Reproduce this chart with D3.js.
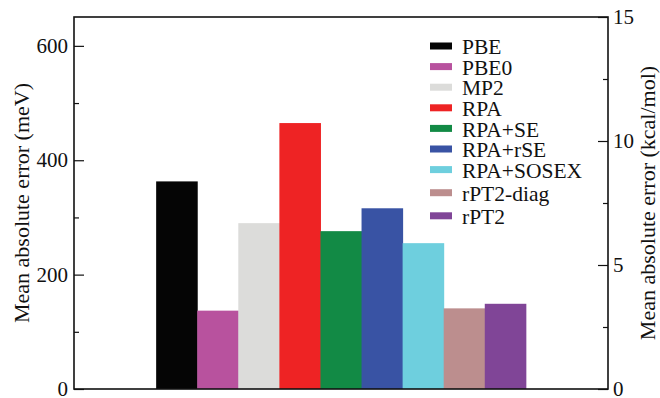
<!DOCTYPE html>
<html>
<head>
<meta charset="utf-8">
<script src="https://cdn.jsdelivr.net/npm/d3@7"></script>
<style>
  html, body { margin: 0; padding: 0; background: #fff; }
  svg { display: block; }
  text { font-family: "Liberation Serif", "Times New Roman", serif; fill: #111; }
</style>
</head>
<body>
<svg id="chart" width="660" height="398"></svg>
<script>
// Methods and their mean absolute errors (meV)
const methods = ["PBE", "PBE0", "MP2", "RPA", "RPA+SE", "RPA+rSE", "RPA+SOSEX", "rPT2-diag", "rPT2"];
const maeMeV = [363, 137, 290, 465, 276, 316, 255, 141, 149];
const colors = ["#050505", "#b8529e", "#dcdcda", "#ee2324", "#128a45", "#3953a4", "#6ecfde", "#bc8e8e", "#804597"];
const leftTicks = [0, 200, 400, 600];
const leftMinor = [100, 300, 500];
const rightTicks = [0, 5, 10, 15];
const rightMinor = [2.5, 7.5, 12.5];
const meVPerKcal = 43.364;

const svg = d3.select("#chart");
const m = { left: 74, right: 52, top: 17, bottom: 9 };
const W = 660, H = 398;
const x0 = m.left, x1 = W - m.right, y0 = H - m.bottom, y1 = m.top;

const yMax = 15 * meVPerKcal;
const y = d3.scaleLinear().domain([0, yMax]).range([y0, y1]);
const yK = d3.scaleLinear().domain([0, 15]).range([y0, y1]);

// 13 slots across the frame: two empty slots each side, nine bars in the middle
const slots = d3.range(13);
const x = d3.scaleBand().domain(slots).range([x0, x1]).padding(0);

svg.append("g").selectAll("rect")
  .data(maeMeV)
  .join("rect")
  .attr("x", (d, i) => x(i + 2))
  .attr("width", x.bandwidth() + 0.5)
  .attr("y", d => y(d))
  .attr("height", d => y0 - y(d))
  .attr("fill", (d, i) => colors[i]);

// Frame
svg.append("rect")
  .attr("x", x0).attr("y", y1)
  .attr("width", x1 - x0).attr("height", y0 - y1)
  .attr("fill", "none").attr("stroke", "#111").attr("stroke-width", 1.6);

// Left axis (ticks point inward)
const leftAxis = d3.axisRight(y).tickValues(leftTicks).tickSize(10).tickFormat("");
const gl = svg.append("g").attr("transform", `translate(${x0},0)`).call(leftAxis);
const leftAxisMinor = d3.axisRight(y).tickValues(leftMinor).tickSize(5).tickFormat("");
const glm = svg.append("g").attr("transform", `translate(${x0},0)`).call(leftAxisMinor);
[gl, glm].forEach(g => {
  g.select(".domain").remove();
  g.selectAll("line").attr("stroke", "#111").attr("stroke-width", 1.2);
});
svg.append("g").selectAll("text")
  .data(leftTicks)
  .join("text")
  .attr("x", x0 - 6)
  .attr("y", d => y(d))
  .attr("dy", "0.33em")
  .attr("text-anchor", "end")
  .attr("font-size", 21)
  .text(d => d);

// Right axis in kcal/mol
const rightAxis = d3.axisLeft(yK).tickValues(rightTicks).tickSize(10).tickFormat("");
const gr = svg.append("g").attr("transform", `translate(${x1},0)`).call(rightAxis);
const rightAxisMinor = d3.axisLeft(yK).tickValues(rightMinor).tickSize(5).tickFormat("");
const grm = svg.append("g").attr("transform", `translate(${x1},0)`).call(rightAxisMinor);
[gr, grm].forEach(g => {
  g.select(".domain").remove();
  g.selectAll("line").attr("stroke", "#111").attr("stroke-width", 1.2);
});
svg.append("g").selectAll("text")
  .data(rightTicks)
  .join("text")
  .attr("x", x1 + 5)
  .attr("y", d => yK(d))
  .attr("dy", "0.33em")
  .attr("text-anchor", "start")
  .attr("font-size", 21)
  .text(d => d);

// Axis titles
svg.append("text")
  .attr("transform", "translate(29,203) rotate(-90)")
  .attr("text-anchor", "middle")
  .attr("font-size", 22)
  .text("Mean absolute error (meV)");
svg.append("text")
  .attr("transform", "translate(655,203) rotate(-90)")
  .attr("text-anchor", "middle")
  .attr("font-size", 22)
  .text("Mean absolute error (kcal/mol)");

// Legend: the last two rows sit a little further apart
const legend = svg.append("g").attr("transform", "translate(430,46)");
const rowY = i => i * 20.6 + (i >= 7 ? (i - 6) * 2.5 : 0);
const rows = legend.selectAll("g")
  .data(methods)
  .join("g")
  .attr("transform", (d, i) => `translate(0,${rowY(i)})`);
rows.append("rect")
  .attr("x", 0).attr("y", -3.5)
  .attr("width", 22).attr("height", 7)
  .attr("fill", (d, i) => colors[i]);
rows.append("text")
  .attr("x", 32)
  .attr("y", 0)
  .attr("dy", "0.38em")
  .attr("font-size", 21.5)
  .text(d => d);
</script>
</body>
</html>
